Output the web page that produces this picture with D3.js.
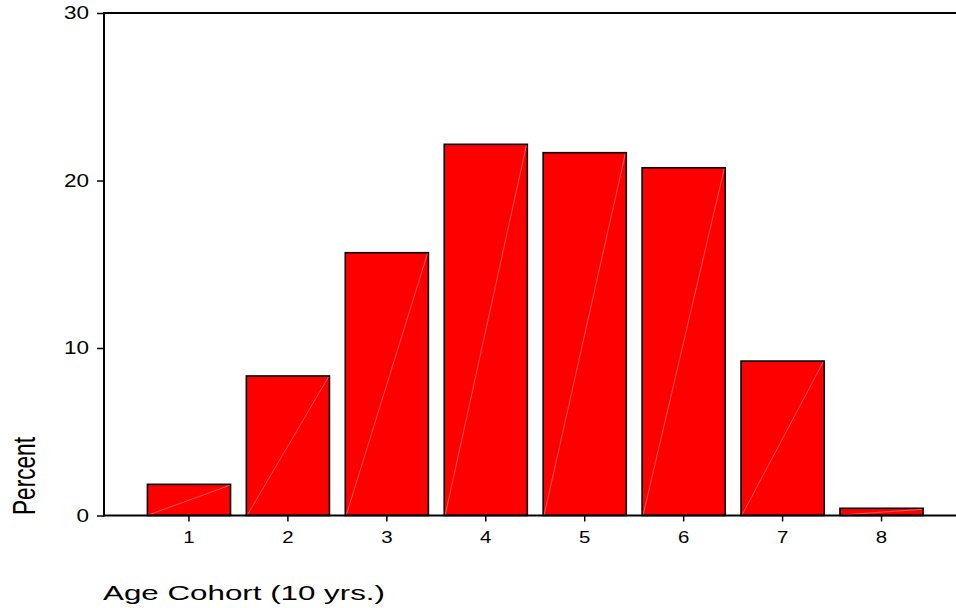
<!DOCTYPE html>
<html>
<head>
<meta charset="utf-8">
<script src="https://cdn.jsdelivr.net/npm/d3@7"></script>
<style>
  html, body { margin: 0; padding: 0; background: #fff; }
  svg { display: block; }
  text { font-family: "Liberation Sans", Arial, sans-serif; fill: #000; }
</style>
</head>
<body>
<svg id="chart" width="956" height="608"></svg>
<script>
const categories = ["1", "2", "3", "4", "5", "6", "7", "8"];
const percents = [1.86, 8.33, 15.69, 22.16, 21.66, 20.76, 9.22, 0.43];
const yTicks = [0, 10, 20, 30];
const xTitle = "Age Cohort (10 yrs.)";
const yTitle = "Percent";

const svg = d3.select("#chart");
const plotLeft = 104, plotTop = 13, plotBottom = 515.5, plotRight = 956;

const x = d3.scaleBand().domain(categories).range([139.5, 931])
  .paddingInner(0.16).paddingOuter(0.08);
const y = d3.scaleLinear().domain([0, 30]).range([plotBottom, plotTop]);

// bars
const data = categories.map((c, i) => ({ c, v: percents[i] }));
const g = svg.append("g");
g.selectAll("rect.bar").data(data).join("rect")
  .attr("class", "bar")
  .attr("x", d => x(d.c))
  .attr("y", d => y(d.v))
  .attr("width", x.bandwidth())
  .attr("height", d => y(0) - y(d.v))
  .attr("fill", "#ff0000")
  .attr("stroke", "#000")
  .attr("stroke-width", 1.6);
// faint diagonal seam
g.selectAll("line.seam").data(data).join("line")
  .attr("class", "seam")
  .attr("x1", d => x(d.c) + 1)
  .attr("y1", y(0) - 0.5)
  .attr("x2", d => x(d.c) + x.bandwidth() - 1)
  .attr("y2", d => y(d.v) + 1)
  .attr("stroke", "#ff9090")
  .attr("stroke-width", 0.6);

// y axis
const yAxis = svg.append("g").attr("transform", `translate(${plotLeft},0)`)
  .call(d3.axisLeft(y).tickValues(yTicks).tickSize(7).tickPadding(8).tickFormat(d3.format("d")));
yAxis.select(".domain").remove();
yAxis.selectAll(".tick line").attr("stroke", "#000").attr("stroke-width", 1.5);
yAxis.selectAll(".tick text").attr("font-size", 18).attr("font-family", "Liberation Sans, Arial, sans-serif")
  .each(function () {
    const w = this.getComputedTextLength();
    d3.select(this).attr("textLength", w * 1.25).attr("lengthAdjust", "spacingAndGlyphs");
  });

// x axis
const xAxis = svg.append("g").attr("transform", `translate(0,${plotBottom})`)
  .call(d3.axisBottom(x).tickSize(6).tickPadding(9));
xAxis.select(".domain").remove();
xAxis.selectAll(".tick line").attr("stroke", "#000").attr("stroke-width", 1.5);
xAxis.selectAll(".tick text").attr("font-size", 17).attr("font-family", "Liberation Sans, Arial, sans-serif")
  .each(function () {
    const w = this.getComputedTextLength();
    d3.select(this).attr("textLength", w * 1.2).attr("lengthAdjust", "spacingAndGlyphs");
  });

// frame lines
svg.append("line").attr("x1", plotLeft).attr("x2", plotRight).attr("y1", plotTop).attr("y2", plotTop)
  .attr("stroke", "#000").attr("stroke-width", 2);
svg.append("line").attr("x1", plotLeft).attr("x2", plotLeft).attr("y1", plotTop - 1).attr("y2", plotBottom + 1)
  .attr("stroke", "#000").attr("stroke-width", 2);
svg.append("line").attr("x1", plotLeft).attr("x2", plotRight).attr("y1", plotBottom).attr("y2", plotBottom)
  .attr("stroke", "#000").attr("stroke-width", 2);

// titles
svg.append("text")
  .attr("x", 103).attr("y", 600)
  .attr("font-size", 21)
  .attr("textLength", 282).attr("lengthAdjust", "spacingAndGlyphs")
  .text(xTitle);

svg.append("text")
  .attr("transform", "translate(35,515) rotate(-90)")
  .attr("font-size", 31)
  .attr("textLength", 78).attr("lengthAdjust", "spacingAndGlyphs")
  .text(yTitle);
</script>
</body>
</html>
